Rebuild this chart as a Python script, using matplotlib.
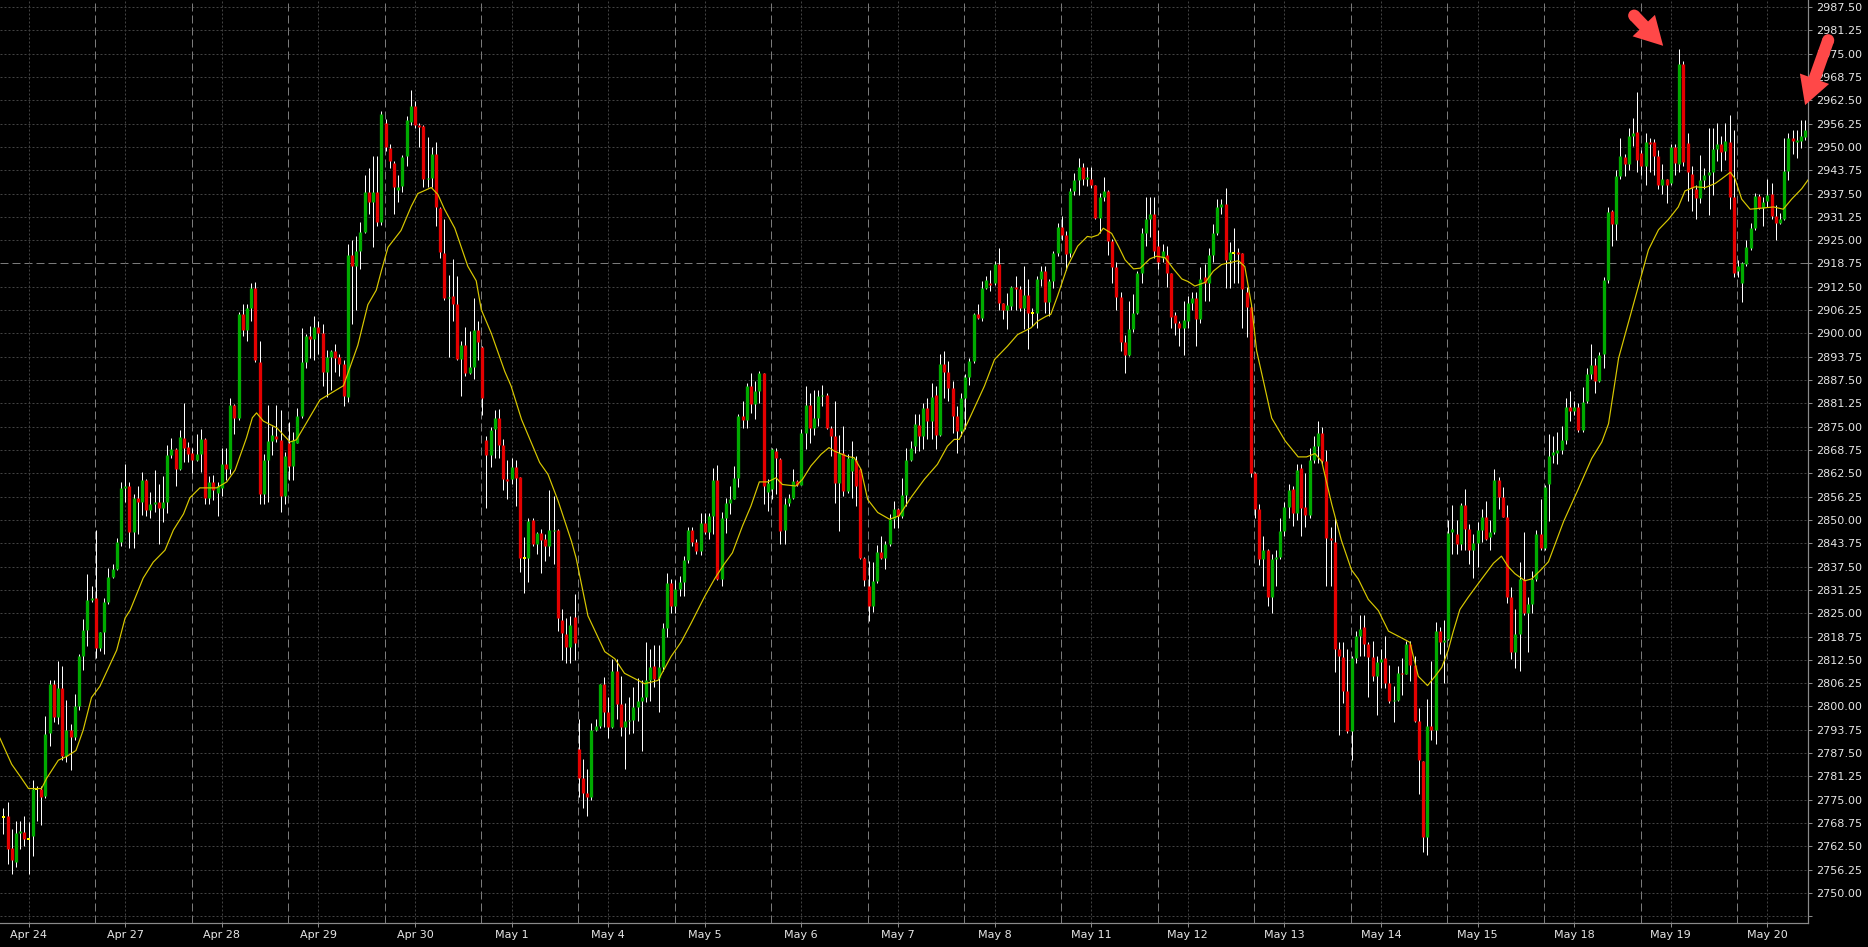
import numpy as np
import matplotlib
matplotlib.use("Agg")
import matplotlib.pyplot as plt
from matplotlib.patches import FancyArrow, Circle

# ---------------- data (hourly candles) ----------------
opens = [
 2770.3,2770.7,2762.1,2758.4,2766.2,2766.3,2764.6,2765.2,2778.0,2778.0,
 2775.9,2792.8,2806.0,2797.1,2804.9,2786.6,2793.6,2791.7,2800.1,2813.5,
 2820.5,2828.5,2829.2,2815.6,2819.9,2828.0,2834.6,2836.8,2844.1,2858.6,
 2859.1,2846.8,2855.9,2854.8,2860.7,2852.7,2854.3,2854.9,2853.2,2854.8,
 2867.4,2869.1,2863.6,2872.0,2869.6,2867.9,2866.1,2867.7,2871.7,2855.9,
 2860.2,2857.1,2858.6,2865.0,2863.7,2880.8,2877.4,2905.1,2901.0,2906.9,
 2912.3,2892.4,2856.9,2866.1,2871.2,2872.5,2871.5,2856.4,2870.7,2864.5,
 2870.7,2877.9,2892.4,2899.2,2898.6,2901.8,2900.1,2889.7,2893.7,2895.4,
 2893.7,2891.8,2883.0,2921.0,2918.0,2922.2,2927.2,2937.9,2935.3,2937.9,
 2929.8,2956.5,2949.8,2945.8,2938.5,2939.5,2947.5,2956.7,2961.0,2955.8,
 2955.6,2941.3,2941.7,2948.1,2933.6,2921.6,2909.4,2910.0,2908.0,2893.2,
 2896.8,2889.5,2891.0,2901.0,2896.4,2871.5,2867.3,2874.3,2877.2,2870.1,
 2860.9,2860.9,2864.3,2861.5,2839.9,2839.9,2850.0,2843.6,2846.4,2844.8,
 2842.9,2847.2,2847.4,2823.3,2819.4,2816.0,2823.9,2788.6,2780.9,2776.8,
 2775.8,2793.8,2794.8,2806.1,2798.4,2794.6,2809.6,2800.6,2794.6,2796.1,
 2796.4,2799.9,2801.5,2802.5,2807.0,2810.8,2807.6,2810.5,2821.1,2833.0,
 2826.9,2831.4,2833.5,2839.3,2847.2,2844.2,2841.6,2849.3,2846.8,2851.0,
 2860.6,2834.1,2850.6,2854.6,2855.7,2861.3,2877.9,2876.8,2885.9,2881.0,
 2884.5,2889.3,2857.5,2858.2,2868.5,2866.4,2847.2,2854.6,2856.0,2860.4,
 2859.5,2873.2,2880.7,2874.7,2877.2,2883.2,2883.6,2874.7,2872.5,2860.0,
 2868.0,2857.8,2863.1,2866.2,2863.6,2839.9,2832.3,2827.0,2833.7,2841.3,
 2839.9,2843.5,2850.2,2852.9,2851.1,2856.6,2866.2,2869.8,2875.4,2872.5,
 2880.1,2876.5,2883.4,2872.9,2891.7,2889.7,2885.4,2877.9,2873.8,2882.8,
 2888.4,2892.6,2905.1,2904.2,2912.2,2913.6,2913.6,2918.7,2908.2,2906.4,
 2907.3,2912.4,2912.0,2906.9,2910.4,2905.4,2905.5,2914.5,2916.7,2908.4,
 2914.0,2921.6,2928.6,2926.5,2921.5,2938.1,2941.1,2944.6,2941.3,2941.5,
 2939.7,2930.9,2936.5,2938.2,2924.8,2917.9,2909.8,2897.6,2894.2,2901.3,
 2905.4,2916.1,2926.8,2930.6,2931.9,2923.4,2920.3,2920.9,2916.1,2904.9,
 2902.7,2901.5,2903.3,2908.2,2909.4,2904.0,2915.1,2913.4,2920.9,2927.0,
 2934.0,2934.6,2919.7,2921.5,2921.8,2921.5,2911.2,2907.0,2862.7,2853.0,
 2839.6,2842.0,2829.3,2839.6,2840.2,2847.1,2853.6,2858.4,2851.8,2863.9,
 2853.6,2851.4,2866.1,2869.7,2873.3,2865.7,2845.1,2844.2,2815.4,2813.2,
 2804.2,2793.3,2812.9,2819.0,2821.2,2816.8,2813.2,2808.1,2811.9,2812.9,
 2806.3,2801.4,2801.8,2809.0,2808.7,2816.8,2811.1,2796.2,2785.3,2765.0,
 2794.7,2793.7,2820.2,2817.2,2818.0,2846.7,2846.3,2843.5,2854.0,2847.6,
 2841.9,2843.9,2847.4,2850.7,2845.4,2846.8,2860.7,2856.1,2850.9,2829.3,
 2814.5,2819.5,2834.2,2825.0,2827.5,2834.2,2846.3,2842.4,2859.6,2867.3,
 2868.0,2868.7,2871.5,2880.4,2879.3,2880.4,2874.2,2881.8,2889.2,2891.5,
 2887.3,2894.4,2914.2,2932.8,2929.3,2942.3,2947.2,2945.3,2953.0,2954.1,
 2948.3,2944.8,2951.4,2951.4,2947.5,2939.9,2941.3,2940.2,2950.1,2945.4,
 2972.2,2951.1,2942.8,2938.8,2936.3,2941.0,2942.6,2943.2,2949.4,2950.8,
 2948.9,2951.4,2936.6,2916.6,2913.6,2918.5,2922.9,2928.2,2936.9,2933.6,
 2935.5,2937.4,2931.4,2929.5,2930.6,2943.5,2952.3,2951.4,2951.6,2952.7]

highs = [
 2772.7,2774.3,2767.1,2769.4,2769.4,2770.6,2768.9,2780.2,2778.6,2778.6,
 2797.4,2807.0,2807.0,2812.1,2810.8,2801.7,2795.2,2803.3,2814.0,2823.5,
 2835.5,2832.3,2847.3,2820.0,2829.0,2837.1,2838.2,2845.2,2860.2,2865.0,
 2860.2,2857.0,2859.1,2862.9,2860.9,2857.5,2863.4,2859.7,2861.8,2870.2,
 2872.0,2869.3,2874.2,2881.4,2870.9,2869.3,2873.1,2874.4,2871.9,2861.8,
 2862.1,2860.2,2869.3,2869.3,2882.7,2881.1,2905.8,2908.0,2908.0,2913.4,
 2913.7,2898.0,2867.7,2880.8,2875.3,2880.8,2879.5,2868.3,2876.3,2873.6,
 2880.1,2901.5,2899.9,2902.1,2904.8,2903.4,2902.6,2895.6,2895.6,2897.2,
 2894.6,2893.0,2924.0,2925.0,2926.0,2929.8,2942.4,2944.3,2947.5,2947.5,
 2959.7,2957.5,2950.7,2946.2,2942.4,2947.7,2958.4,2965.2,2962.2,2956.5,
 2955.8,2952.6,2950.1,2951.3,2933.8,2930.8,2915.7,2919.9,2915.4,2898.1,
 2901.6,2900.7,2909.6,2903.2,2896.6,2872.5,2875.0,2879.5,2879.8,2871.8,
 2866.0,2866.6,2866.0,2861.5,2845.5,2850.6,2850.6,2846.8,2847.7,2846.1,
 2857.9,2856.4,2847.6,2826.2,2823.7,2824.3,2830.1,2796.7,2785.8,2783.2,
 2795.5,2796.7,2806.1,2807.9,2802.5,2812.8,2812.8,2808.3,2801.0,2802.5,
 2805.3,2807.6,2807.0,2817.3,2815.3,2816.6,2816.6,2822.4,2835.9,2834.3,
 2833.9,2835.0,2840.4,2848.0,2848.0,2845.0,2851.9,2851.9,2851.9,2863.8,
 2864.7,2852.0,2856.0,2859.1,2864.5,2878.3,2881.9,2886.8,2889.5,2887.2,
 2889.9,2889.5,2861.0,2869.4,2869.4,2866.7,2856.0,2856.9,2863.6,2860.7,
 2874.3,2885.9,2884.1,2884.9,2884.9,2886.3,2884.1,2875.2,2881.9,2872.9,
 2875.2,2867.6,2871.2,2867.1,2864.0,2840.0,2838.9,2838.7,2843.2,2845.7,
 2844.4,2851.5,2855.1,2853.3,2861.3,2869.4,2871.2,2878.3,2878.3,2881.4,
 2882.8,2886.8,2885.9,2894.4,2895.3,2892.6,2887.2,2880.5,2884.1,2889.0,
 2893.5,2905.5,2907.8,2914.0,2915.5,2917.1,2919.4,2922.9,2908.2,2910.9,
 2912.7,2915.4,2912.7,2918.0,2914.6,2906.9,2915.4,2918.0,2918.0,2914.5,
 2922.0,2929.6,2931.5,2927.5,2939.0,2943.0,2947.1,2945.7,2944.6,2944.6,
 2939.9,2937.7,2941.8,2938.5,2925.2,2919.1,2911.2,2899.7,2908.8,2910.6,
 2916.7,2928.2,2936.7,2936.7,2936.7,2927.6,2924.0,2923.4,2916.1,2905.8,
 2903.3,2908.8,2910.0,2911.2,2911.2,2917.9,2918.5,2922.8,2929.4,2936.1,
 2936.1,2939.1,2924.6,2928.2,2922.8,2921.5,2912.4,2907.3,2862.9,2854.2,
 2845.7,2842.3,2840.8,2842.0,2850.5,2854.8,2859.6,2859.0,2865.1,2865.1,
 2862.7,2869.4,2872.4,2876.6,2874.8,2868.8,2848.1,2850.5,2817.2,2817.2,
 2815.4,2813.5,2820.2,2824.5,2824.5,2817.2,2817.5,2813.5,2815.4,2819.0,
 2811.1,2805.6,2810.8,2812.9,2817.5,2817.5,2813.5,2799.6,2785.3,2802.0,
 2812.3,2822.6,2821.4,2823.2,2850.0,2854.0,2850.1,2854.5,2858.3,2849.0,
 2846.3,2849.4,2852.9,2855.1,2850.1,2863.6,2861.6,2858.9,2854.0,2832.0,
 2826.1,2838.6,2846.8,2829.3,2836.4,2847.4,2855.6,2859.4,2873.1,2872.6,
 2873.6,2875.3,2882.6,2884.6,2882.0,2881.3,2885.7,2890.6,2897.2,2893.4,
 2895.0,2915.2,2933.9,2933.0,2943.7,2952.5,2948.1,2955.2,2957.7,2964.7,
 2949.2,2953.6,2952.5,2952.0,2949.2,2945.4,2941.5,2950.8,2950.8,2976.3,
 2973.0,2953.6,2944.8,2939.9,2947.9,2944.3,2955.2,2955.2,2956.3,2953.0,
 2956.3,2958.5,2954.6,2919.6,2919.1,2925.1,2929.7,2937.7,2937.4,2936.6,
 2941.5,2940.4,2934.4,2932.2,2952.5,2953.6,2954.4,2954.4,2957.1,2957.1]

lows = [
 2765.7,2757.7,2755.2,2756.9,2761.9,2762.6,2755.2,2759.8,2769.4,2768.3,
 2775.4,2789.3,2795.8,2795.2,2785.6,2785.2,2782.9,2790.9,2799.0,2809.7,
 2816.2,2828.0,2812.9,2815.0,2814.2,2827.5,2834.4,2836.6,2843.0,2854.8,
 2842.5,2842.5,2846.2,2851.4,2851.1,2850.5,2852.1,2843.6,2849.5,2851.8,
 2866.6,2859.1,2863.4,2865.6,2865.6,2862.6,2865.8,2862.9,2854.3,2854.3,
 2855.4,2851.1,2856.4,2860.7,2862.3,2873.1,2876.8,2899.4,2898.0,2903.2,
 2892.4,2854.3,2854.3,2854.8,2867.5,2871.0,2852.1,2854.3,2860.7,2860.7,
 2870.7,2877.4,2890.8,2893.5,2893.0,2894.6,2886.0,2883.0,2884.9,2889.7,
 2888.7,2880.6,2881.7,2902.6,2906.4,2917.3,2927.0,2932.1,2923.1,2928.9,
 2929.0,2948.8,2944.3,2932.1,2935.3,2937.9,2944.9,2955.8,2955.2,2950.1,
 2939.2,2939.2,2939.2,2928.9,2920.3,2909.0,2893.6,2903.2,2893.0,2883.3,
 2888.5,2889.1,2887.8,2893.0,2878.2,2853.2,2864.3,2866.6,2866.6,2857.9,
 2855.7,2859.6,2853.8,2836.1,2830.5,2833.3,2842.9,2841.0,2835.9,2839.1,
 2840.4,2838.2,2820.2,2812.5,2811.7,2811.7,2812.5,2775.8,2772.7,2770.7,
 2774.9,2793.5,2794.2,2794.6,2791.6,2794.2,2796.7,2792.0,2783.2,2792.5,
 2792.9,2796.1,2788.0,2801.2,2801.5,2805.3,2798.4,2809.6,2818.5,2825.0,
 2825.0,2829.5,2829.5,2838.4,2842.9,2841.0,2840.5,2846.1,2844.8,2846.1,
 2833.9,2832.3,2846.6,2851.5,2855.5,2858.7,2874.7,2874.7,2878.8,2877.0,
 2881.4,2854.2,2852.4,2855.5,2856.9,2843.5,2843.5,2853.8,2855.5,2859.1,
 2859.3,2868.9,2870.7,2872.9,2875.2,2880.5,2874.3,2867.1,2854.6,2847.0,
 2856.4,2857.3,2856.0,2853.8,2839.5,2832.3,2823.0,2825.2,2833.2,2839.5,
 2836.8,2843.0,2847.9,2847.9,2850.6,2853.8,2865.8,2868.0,2868.5,2868.9,
 2871.6,2871.6,2868.9,2872.5,2882.8,2881.9,2873.4,2867.9,2872.5,2874.3,
 2886.3,2892.1,2903.8,2903.3,2911.8,2911.3,2913.1,2906.4,2903.8,2901.1,
 2906.4,2906.4,2906.0,2901.1,2895.7,2902.0,2901.5,2912.7,2905.5,2904.6,
 2912.2,2920.7,2925.0,2917.0,2920.5,2937.2,2937.0,2939.9,2939.5,2939.1,
 2930.6,2927.0,2935.5,2921.0,2913.4,2906.4,2895.4,2889.4,2894.0,2900.3,
 2905.2,2913.4,2923.4,2925.8,2920.3,2917.3,2919.1,2912.4,2901.5,2899.7,
 2896.7,2894.2,2901.5,2906.4,2896.7,2902.7,2908.8,2908.8,2919.1,2926.4,
 2931.9,2912.2,2912.2,2913.6,2913.6,2901.5,2899.1,2861.5,2850.5,2837.8,
 2832.3,2826.9,2825.1,2832.3,2839.6,2845.7,2850.5,2848.4,2849.9,2845.7,
 2848.1,2850.5,2865.4,2865.4,2865.1,2832.3,2832.3,2809.3,2792.3,2800.8,
 2792.9,2785.6,2811.7,2813.5,2813.5,2802.6,2806.9,2797.7,2805.0,2805.0,
 2800.8,2795.9,2801.4,2803.2,2808.7,2806.9,2795.9,2776.5,2761.0,2760.1,
 2791.1,2789.9,2814.1,2806.3,2817.8,2840.8,2840.8,2841.9,2841.9,2838.1,
 2834.5,2837.5,2844.0,2844.7,2841.9,2846.3,2852.9,2850.7,2827.7,2812.6,
 2810.4,2809.6,2824.4,2814.5,2825.0,2833.7,2841.9,2841.9,2849.6,2865.4,
 2864.9,2867.6,2870.4,2876.4,2878.0,2873.6,2873.6,2881.3,2887.9,2884.1,
 2887.0,2890.6,2913.6,2923.5,2925.1,2941.5,2942.1,2943.7,2950.3,2943.2,
 2942.6,2939.9,2943.2,2942.6,2938.8,2937.4,2935.0,2939.9,2942.6,2943.2,
 2944.8,2935.5,2932.8,2930.6,2935.0,2938.8,2931.7,2937.1,2946.1,2943.5,
 2946.4,2933.3,2915.2,2915.2,2908.5,2918.0,2922.4,2927.8,2933.3,2928.9,
 2933.9,2930.6,2925.1,2929.2,2930.4,2941.0,2948.1,2947.0,2949.7,2951.9]

closes = [
 2770.3,2761.9,2758.9,2766.0,2766.5,2764.4,2764.6,2778.0,2778.0,2775.6,
 2792.5,2806.0,2797.1,2804.9,2786.6,2793.6,2791.7,2800.1,2813.5,2820.5,
 2828.5,2829.2,2815.6,2819.9,2828.0,2834.6,2836.8,2844.1,2858.6,2859.1,
 2846.8,2855.9,2854.8,2860.7,2852.7,2854.3,2854.9,2853.2,2854.8,2867.4,
 2869.1,2863.6,2872.2,2869.3,2867.7,2866.1,2867.7,2871.7,2855.9,2860.2,
 2858.0,2859.1,2865.0,2863.7,2880.8,2877.4,2905.1,2901.0,2906.9,2912.3,
 2893.0,2856.9,2866.1,2871.2,2872.9,2871.8,2856.4,2867.2,2864.5,2871.5,
 2877.9,2892.4,2899.2,2898.6,2901.8,2900.1,2889.7,2893.7,2895.2,2893.3,
 2891.8,2883.3,2921.0,2918.0,2922.0,2927.2,2937.9,2935.3,2937.9,2929.8,
 2958.8,2950.1,2946.2,2939.2,2939.2,2947.2,2957.1,2961.0,2955.8,2955.4,
 2941.3,2941.7,2948.1,2934.0,2921.8,2909.6,2909.8,2908.0,2893.2,2896.8,
 2889.5,2891.0,2901.0,2897.7,2882.7,2867.3,2874.1,2877.2,2870.1,2860.9,
 2860.5,2864.3,2861.3,2839.9,2839.9,2849.7,2843.6,2846.4,2844.6,2842.9,
 2847.2,2847.4,2823.7,2819.8,2816.0,2821.8,2816.9,2780.9,2776.8,2775.8,
 2793.8,2794.8,2806.1,2798.4,2794.6,2809.6,2800.6,2794.6,2796.1,2796.4,
 2799.9,2801.5,2802.5,2807.0,2810.5,2807.4,2810.5,2821.1,2833.0,2826.9,
 2831.4,2833.5,2839.3,2847.2,2844.2,2841.6,2849.3,2846.8,2851.0,2860.6,
 2834.3,2850.6,2854.6,2855.7,2861.3,2877.9,2876.8,2885.9,2881.0,2884.5,
 2889.3,2859.1,2860.0,2868.9,2866.7,2847.0,2854.2,2856.0,2860.4,2859.5,
 2873.2,2880.7,2874.7,2877.2,2883.2,2883.6,2874.7,2872.5,2860.0,2868.0,
 2857.8,2866.7,2866.7,2859.1,2839.9,2833.9,2827.0,2833.7,2841.3,2839.9,
 2843.5,2850.2,2852.9,2851.1,2856.6,2866.2,2869.4,2875.6,2872.5,2880.1,
 2876.5,2883.0,2872.9,2891.7,2889.7,2885.4,2877.9,2873.8,2882.8,2888.4,
 2892.6,2905.1,2904.2,2912.2,2914.3,2913.1,2918.5,2908.2,2906.4,2907.5,
 2912.5,2912.0,2906.9,2910.4,2905.5,2905.4,2914.5,2916.7,2908.4,2914.0,
 2921.6,2928.6,2926.5,2921.2,2938.1,2941.1,2944.6,2941.3,2941.9,2939.7,
 2930.9,2936.5,2938.2,2924.8,2917.9,2909.8,2897.6,2894.2,2901.3,2905.4,
 2916.1,2926.8,2930.6,2931.9,2922.1,2919.1,2922.1,2916.1,2904.5,2902.7,
 2901.5,2903.7,2908.2,2909.6,2904.0,2914.6,2913.4,2920.9,2927.0,2934.0,
 2934.6,2919.7,2921.9,2921.5,2921.2,2911.8,2907.0,2862.7,2853.0,2839.6,
 2842.0,2829.3,2839.6,2840.2,2847.1,2853.6,2858.1,2851.8,2863.3,2853.2,
 2851.4,2866.1,2869.7,2873.3,2865.7,2845.1,2844.5,2815.4,2813.5,2804.2,
 2793.3,2812.9,2819.0,2820.8,2816.8,2813.2,2808.1,2811.9,2812.7,2806.3,
 2801.4,2801.8,2809.0,2808.7,2816.8,2811.1,2796.2,2785.6,2765.0,2794.7,
 2793.7,2820.2,2817.2,2817.8,2846.5,2847.7,2843.5,2854.0,2847.6,2841.9,
 2843.9,2847.4,2850.7,2845.0,2846.8,2860.7,2856.1,2850.9,2829.3,2814.5,
 2819.5,2834.2,2825.0,2827.5,2834.2,2846.3,2842.4,2858.9,2867.1,2868.2,
 2868.7,2871.5,2880.4,2879.3,2880.4,2874.2,2881.5,2889.2,2891.5,2887.3,
 2894.2,2914.2,2932.5,2929.3,2942.3,2947.5,2945.3,2953.0,2953.8,2946.4,
 2944.8,2951.4,2950.8,2947.5,2939.7,2941.3,2939.9,2950.1,2945.7,2972.2,
 2945.9,2943.2,2939.1,2936.3,2941.0,2942.6,2943.2,2949.4,2950.8,2948.6,
 2951.6,2936.6,2916.3,2918.0,2918.75,2923.1,2928.2,2936.9,2933.6,2935.2,
 2937.1,2931.4,2929.5,2930.6,2943.5,2952.5,2951.6,2951.8,2953.0,2954.4]

# moving-average line, read as (bar position, value) vertices
ma_bar = [-0.8,2.0,4.0,6.0,9.1,10.3,13.1,15.1,17.3,19.0,21.0,23.0,27.0,29.0,30.2,33.3,35.7,38.5,40.5,42.9,
          44.4,46.8,50.8,53.2,55.2,57.9,59.3,60.3,61.9,65.1,68.3,69.8,75.4,81.0,84.4,86.8,88.8,90.0,91.6,94.7,
          97.1,98.7,101.9,103.5,105.0,107.5,110.6,112.6,113.8,116.2,119.4,120.9,123.4,127.7,129.7,132.1,135.3,136.4,139.2,143.2,
          145.6,147.9,152.7,155.9,159.0,161.4,163.8,167.0,169.4,171.6,173.6,176.0,178.0,180.0,182.0,184.0,185.5,188.7,190.3,192.3,
          194.7,196.6,197.8,201.0,202.6,204.2,205.8,208.2,211.0,213.3,216.1,219.3,222.4,224.8,226.4,227.6,229.6,233.6,236.0,239.1,
          241.5,244.7,246.3,248.3,249.4,251.0,253.4,255.8,258.1,259.1,260.7,261.9,263.9,265.5,267.1,269.1,270.7,273.0,274.6,276.6,
          278.6,280.6,282.1,283.7,286.2,288.1,290.1,292.5,294.1,295.6,297.2,298.4,299.6,302.0,305.2,308.3,310.3,312.3,313.9,316.3,
          318.6,321.0,322.6,325.0,327.4,329.8,332.9,334.9,336.9,339.1,340.9,342.5,344.0,345.2,346.8,348.8,352.0,354.8,356.7,358.3,
          359.9,362.3,363.9,365.9,367.9,371.5,375.0,378.2,380.6,382.2,384.6,387.0,389.4,391.7,394.1,396.5,398.8,400.4,402.8,405.2,
          407.6,409.2,411.2,412.3,413.9,415.9,418.7,421.5,423.8,425.8,428.2,429.8]
ma_val = [2791.5,2784.5,2781.3,2778.0,2778.0,2780.7,2785.6,2786.6,2788.2,2793.6,2802.4,2805.4,2815.1,2823.7,2825.8,2834.4,2838.7,2841.9,2847.3,2851.6,
          2855.9,2858.6,2858.6,2860.2,2863.4,2872.0,2877.4,2878.7,2876.5,2874.7,2870.9,2871.5,2882.2,2886.0,2896.8,2907.7,2911.6,2916.7,2923.1,2927.6,
          2934.0,2937.5,2939.1,2937.2,2933.4,2928.2,2918.0,2914.1,2906.4,2900.0,2889.8,2885.9,2876.9,2865.4,2862.2,2855.1,2844.2,2839.7,2824.3,2814.7,
          2812.8,2808.9,2806.1,2807.0,2813.4,2817.3,2822.4,2829.5,2834.3,2838.1,2841.2,2848.4,2853.7,2860.2,2860.2,2861.3,2859.5,2859.1,2860.9,2864.5,
          2867.6,2869.4,2868.5,2867.0,2866.7,2863.6,2855.5,2852.0,2850.2,2851.1,2856.0,2860.9,2864.9,2869.8,2871.6,2871.6,2876.1,2885.9,2893.0,2896.6,
          2899.7,2901.5,2903.3,2904.6,2905.1,2910.0,2918.0,2923.4,2926.0,2925.8,2926.4,2928.2,2926.8,2923.4,2919.7,2917.3,2917.5,2920.0,2920.7,2920.3,
          2917.3,2914.6,2913.9,2912.7,2913.7,2916.7,2918.5,2919.1,2919.5,2917.9,2907.6,2895.4,2889.4,2877.3,2871.2,2866.9,2866.9,2867.8,2865.7,2854.2,
          2844.5,2836.6,2834.2,2828.7,2825.7,2820.2,2818.4,2817.2,2808.1,2805.6,2808.1,2810.5,2815.0,2820.0,2826.0,2829.3,2834.2,2838.4,2840.3,2837.5,
          2835.6,2833.7,2834.2,2836.4,2838.8,2849.6,2858.3,2866.5,2870.9,2875.8,2893.4,2903.2,2913.1,2922.4,2927.8,2930.6,2933.9,2938.2,2939.3,2939.1,
          2940.2,2941.5,2943.2,2941.5,2936.0,2933.3,2933.6,2933.9,2933.3,2936.0,2938.8,2941.3]

day_labels = ["Apr 24", "Apr 27", "Apr 28", "Apr 29", "Apr 30", "May 1", "May 4", "May 5",
              "May 6", "May 7", "May 8", "May 11", "May 12", "May 13", "May 14", "May 15",
              "May 18", "May 19", "May 20"]
label_bars = [6 + 23 * i for i in range(len(day_labels))]      # midnight of each session
session_starts = [22 + 23 * i for i in range(18)]              # period separators
price_ticks = [2743.75 + 6.25 * i for i in range(40)]
level_line = 2918.75

# arrows: (tail bar, tail price, tip bar, tip price)
arrows = [(388.3, 2985.2, 395.2, 2977.1), (434.5, 2978.6, 429.0, 2961.2)]

# ---------------- drawing ----------------
n = min(len(opens), len(highs), len(lows), len(closes))
O = np.array(opens[:n]); Hh = np.array(highs[:n]); Ll = np.array(lows[:n]); C = np.array(closes[:n])
Hh = np.maximum(Hh, np.maximum(O, C)); Ll = np.minimum(Ll, np.minimum(O, C))
x = np.arange(n)

W, Hpx = 1868, 947
DPI = 100
PT = 72.0 / DPI          # points per pixel
fig = plt.figure(figsize=(W / DPI, Hpx / DPI), dpi=DPI, facecolor='black')
plot_w, plot_h = 1808, 923
ax = fig.add_axes([0, (Hpx - plot_h) / Hpx, plot_w / W, plot_h / Hpx], facecolor='black')

px_per_bar = 4.2
px_per_pt = 3.7305
x_left = -3.3 / px_per_bar
ax.set_xlim(x_left, x_left + plot_w / px_per_bar)
y_bot = 2750 - 30 / px_per_pt
ax.set_ylim(y_bot, y_bot + plot_h / px_per_pt)

grid_c = '#424242'
sep_c = '#7a7a7a'
for p in price_ticks:
    if abs(p - level_line) < 1e-6:
        continue
    ax.axhline(p, color=grid_c, lw=1 * PT, dashes=(2, 2), zorder=1)
ax.axhline(level_line, color=sep_c, lw=1 * PT, dashes=(8, 4), zorder=1)
for b in label_bars:
    ax.axvline(b, color=grid_c, lw=1 * PT, dashes=(2, 2), zorder=1)
for b in session_starts:
    ax.axvline(b - 0.17, color=sep_c, lw=1 * PT, dashes=(8, 4), zorder=1)

# wicks (1 px, white)
ax.vlines(x, Ll, Hh, colors='#ffffff', lw=1 * PT, zorder=2)

# bodies drawn as thick butt-capped segments, at least 1 px tall
min_h = 1.0 / px_per_pt
up = C > O
dn = C < O
dj = C == O
lo = np.minimum(O, C)
hi = np.maximum(O, C)
small = (hi - lo) < min_h
mid = (hi + lo) / 2
lo_d = np.where(small, mid - min_h / 2, lo)
hi_d = np.where(small, mid + min_h / 2, hi)
body_w = 3.3 * PT
bodies_up = ax.vlines(x[up], lo_d[up], hi_d[up], colors='#00aa00', lw=body_w, zorder=6)
bodies_dn = ax.vlines(x[dn], lo_d[dn], hi_d[dn], colors='#e40000', lw=body_w, zorder=6)
for coll in (bodies_up, bodies_dn):
    coll.set_capstyle('butt')
dj_coll = ax.hlines(O[dj], x[dj] - 0.38, x[dj] + 0.38, colors='#ffff00', lw=2 * PT, zorder=6)
dj_coll.set_capstyle('butt')

# moving average
ax.plot(ma_bar, ma_val, color='#d8c800', lw=1.2 * PT, zorder=7)

# axes styling
for s in ['left', 'top']:
    ax.spines[s].set_visible(False)
for s in ['right', 'bottom']:
    ax.spines[s].set_color('#8a8a8a')
    ax.spines[s].set_linewidth(1.2 * PT)
ax.yaxis.tick_right()
ax.set_yticks(price_ticks)
ax.set_yticklabels(['' if i == 0 else f"{p:.2f}" for i, p in enumerate(price_ticks)])
ax.set_xticks(label_bars)
ax.set_xticklabels(day_labels)
ax.tick_params(axis='both', colors='#8a8a8a', labelcolor='#e6e6e6', length=4 * PT, width=1 * PT,
               labelsize=8, direction='out')
ax.tick_params(axis='y', pad=3)
ax.tick_params(axis='x', pad=2.5)
for lab in ax.get_xticklabels() + ax.get_yticklabels():
    lab.set_fontfamily('DejaVu Sans')

# red annotation arrows (overlay in pixel space)
ov = fig.add_axes([0, 0, 1, 1], facecolor='none')
ov.set_xlim(0, W)
ov.set_ylim(Hpx, 0)
ov.axis('off')
ov.set_zorder(10)
fig.canvas.draw()
arrow_c = '#ff4848'
for tb, tp, hb, hp in arrows:
    tx, ty = ax.transData.transform((tb, tp))
    hx, hy = ax.transData.transform((hb, hp))
    ty, hy = Hpx - ty, Hpx - hy
    ov.add_patch(FancyArrow(tx, ty, hx - tx, hy - ty, width=12, head_width=31, head_length=28,
                            length_includes_head=True, color=arrow_c, lw=0))
    ov.add_patch(Circle((tx, ty), 6, color=arrow_c, lw=0))

fig.savefig('out.png', dpi=DPI, facecolor='black')
